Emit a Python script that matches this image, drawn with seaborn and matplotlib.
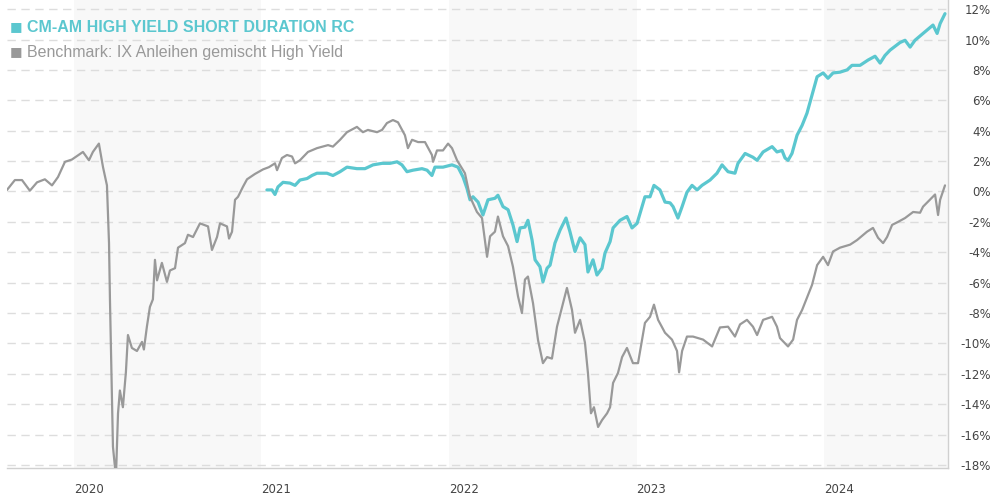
import numpy as np
import pandas as pd
import seaborn as sns
import matplotlib.pyplot as plt

# values (x in decimal years, y in percent)
bench_year = [2019.643, 2019.685, 2019.723, 2019.765, 2019.803, 2019.845, 2019.883, 2019.915,
              2019.952, 2019.989, 2020.048, 2020.080, 2020.101, 2020.133, 2020.155, 2020.176,
              2020.187, 2020.192, 2020.208, 2020.224, 2020.235, 2020.245, 2020.261, 2020.277,
              2020.288, 2020.309, 2020.336, 2020.363, 2020.373, 2020.389, 2020.405, 2020.421,
              2020.432, 2020.443, 2020.469, 2020.496, 2020.512, 2020.539, 2020.555, 2020.592,
              2020.608, 2020.635, 2020.672, 2020.715, 2020.736, 2020.763, 2020.779, 2020.816,
              2020.827, 2020.843, 2020.859, 2020.875, 2020.901, 2020.923, 2020.965, 2021.008,
              2021.040, 2021.072, 2021.083, 2021.109, 2021.136, 2021.163, 2021.179, 2021.205,
              2021.248, 2021.296, 2021.355, 2021.381, 2021.419, 2021.456, 2021.509, 2021.541,
              2021.568, 2021.616, 2021.643, 2021.669, 2021.701, 2021.728, 2021.765, 2021.781,
              2021.803, 2021.835, 2021.872, 2021.909, 2021.915, 2021.936, 2021.968, 2021.995,
              2022.016, 2022.043, 2022.085, 2022.112, 2022.149, 2022.176, 2022.203, 2022.219,
              2022.245, 2022.261, 2022.288, 2022.315, 2022.341, 2022.368, 2022.389, 2022.405,
              2022.421, 2022.448, 2022.475, 2022.501, 2022.523, 2022.549, 2022.576, 2022.603,
              2022.629, 2022.656, 2022.672, 2022.699, 2022.725, 2022.741, 2022.757, 2022.773,
              2022.795, 2022.816, 2022.843, 2022.859, 2022.875, 2022.901, 2022.923, 2022.949,
              2022.981, 2023.008, 2023.045, 2023.072, 2023.093, 2023.115, 2023.152, 2023.189,
              2023.216, 2023.227, 2023.243, 2023.269, 2023.301, 2023.355, 2023.403, 2023.445,
              2023.488, 2023.525, 2023.552, 2023.589, 2023.621, 2023.643, 2023.675, 2023.723,
              2023.749, 2023.765, 2023.808, 2023.835, 2023.856, 2023.883, 2023.909, 2023.936,
              2023.963, 2023.995, 2024.021, 2024.048, 2024.085, 2024.139, 2024.176, 2024.229,
              2024.261, 2024.288, 2024.315, 2024.336, 2024.363, 2024.395, 2024.432, 2024.475,
              2024.512, 2024.528, 2024.592, 2024.608, 2024.619, 2024.645]
bench_val = [0.1, 0.75, 0.75, 0.05, 0.6, 0.8, 0.4, 0.95,
             1.95, 2.1, 2.6, 2.05, 2.6, 3.15, 1.6, 0.4,
             -3.4, -7.1, -16.8, -18.8, -14.6, -13.1, -14.2, -11.9,
             -9.45, -10.3, -10.5, -9.9, -10.4, -8.9, -7.6, -7.1,
             -4.5, -5.85, -4.7, -5.95, -5.2, -5.05, -3.7, -3.4,
             -2.85, -3.0, -2.1, -2.3, -3.85, -3.0, -2.1, -2.3,
             -3.1, -2.65, -0.55, -0.35, 0.3, 0.8, 1.15, 1.45,
             1.6, 1.85, 1.4, 2.2, 2.4, 2.3, 1.85, 2.05,
             2.6, 2.85, 3.05, 2.95, 3.4, 3.9, 4.25, 3.9,
             4.05, 3.9, 4.05, 4.5, 4.7, 4.55, 3.7, 2.85,
             3.4, 3.25, 3.25, 2.4, 1.95, 2.7, 2.7, 3.15,
             2.85, 2.05, 1.2, -0.35, -1.35, -1.75, -4.3, -2.95,
             -2.65, -1.65, -2.95, -3.6, -4.95, -6.9, -8.0, -5.8,
             -5.6, -7.35, -9.8, -11.3, -10.9, -11.0, -8.9, -7.6,
             -6.35, -7.8, -9.3, -8.45, -9.95, -11.95, -14.6, -14.2,
             -15.5, -15.05, -14.6, -14.2, -12.6, -11.95, -10.9, -10.3,
             -11.3, -11.3, -8.65, -8.25, -7.45, -8.45, -9.3, -9.75,
             -10.5, -11.9, -10.5, -9.55, -9.55, -9.75, -10.2, -8.95,
             -8.9, -9.55, -8.75, -8.45, -8.9, -9.45, -8.45, -8.25,
             -8.9, -9.65, -10.2, -9.75, -8.45, -7.8, -7.0, -6.15,
             -4.85, -4.3, -4.85, -3.95, -3.7, -3.5, -3.2, -2.65,
             -2.4, -3.05, -3.4, -3.0, -2.2, -2.0, -1.75, -1.35,
             -1.4, -1.0, -0.2, -1.55, -0.55, 0.4]

fund_year = [2021.029, 2021.056, 2021.072, 2021.088, 2021.115, 2021.152, 2021.179, 2021.205,
             2021.243, 2021.269, 2021.296, 2021.349, 2021.381, 2021.419, 2021.456, 2021.509,
             2021.552, 2021.595, 2021.643, 2021.685, 2021.723, 2021.749, 2021.776, 2021.808,
             2021.856, 2021.883, 2021.909, 2021.925, 2021.968, 2022.016, 2022.048, 2022.075,
             2022.096, 2022.112, 2022.128, 2022.155, 2022.181, 2022.208, 2022.245, 2022.261,
             2022.288, 2022.315, 2022.341, 2022.363, 2022.379, 2022.405, 2022.421, 2022.443,
             2022.459, 2022.485, 2022.501, 2022.523, 2022.539, 2022.565, 2022.592, 2022.624,
             2022.645, 2022.672, 2022.699, 2022.725, 2022.741, 2022.768, 2022.789, 2022.816,
             2022.832, 2022.859, 2022.875, 2022.912, 2022.949, 2022.976, 2023.003, 2023.045,
             2023.072, 2023.093, 2023.125, 2023.152, 2023.179, 2023.195, 2023.221, 2023.243,
             2023.269, 2023.296, 2023.323, 2023.349, 2023.392, 2023.429, 2023.456, 2023.488,
             2023.525, 2023.541, 2023.579, 2023.621, 2023.643, 2023.675, 2023.723, 2023.749,
             2023.776, 2023.792, 2023.808, 2023.829, 2023.856, 2023.883, 2023.909, 2023.936,
             2023.963, 2023.995, 2024.021, 2024.048, 2024.085, 2024.123, 2024.149, 2024.192,
             2024.235, 2024.272, 2024.299, 2024.325, 2024.352, 2024.405, 2024.432, 2024.459,
             2024.485, 2024.528, 2024.581, 2024.603, 2024.619, 2024.645]
fund_val = [0.1, 0.1, -0.2, 0.3, 0.6, 0.55, 0.4, 0.75,
            0.85, 1.05, 1.2, 1.2, 1.05, 1.3, 1.6, 1.5,
            1.5, 1.75, 1.85, 1.85, 1.95, 1.75, 1.3, 1.4,
            1.5, 1.4, 1.05, 1.6, 1.6, 1.75, 1.6, 0.95,
            0.2, -0.55, -0.35, -0.7, -1.55, -0.55, -0.45, -0.25,
            -1.0, -1.2, -2.2, -3.3, -2.4, -2.35, -1.9, -3.2,
            -4.5, -4.95, -5.95, -5.05, -4.85, -3.4, -2.55, -1.75,
            -2.65, -3.95, -3.05, -3.5, -5.3, -4.5, -5.5, -5.05,
            -4.05, -3.3, -2.4, -1.9, -1.65, -2.4, -2.1, -0.35,
            -0.35, 0.4, 0.1, -0.7, -0.75, -1.0, -1.75, -1.0,
            -0.05, 0.4, 0.1, 0.4, 0.75, 1.2, 1.75, 1.3,
            1.2, 1.85, 2.5, 2.25, 2.05, 2.6, 2.95, 2.6,
            2.7, 2.2, 2.05, 2.5, 3.7, 4.35, 5.15, 6.35,
            7.55, 7.8, 7.45, 7.8, 7.85, 8.0, 8.3, 8.3,
            8.65, 8.9, 8.45, 8.95, 9.3, 9.8, 9.95, 9.5,
            9.95, 10.4, 10.95, 10.4, 11.05, 11.7]

years = [2020, 2021, 2022, 2023, 2024]
shaded_years = [2020, 2022, 2024]
y_ticks = list(range(-18, 13, 2))

fund_name = "CM-AM HIGH YIELD SHORT DURATION RC"
bench_name = "Benchmark: IX Anleihen gemischt High Yield"

teal = "#5bc7cf"
grey = "#999999"

sns.set_style("white")
plt.rcParams['font.family'] = ['DejaVu Sans']

fig = plt.figure(figsize=(9.9, 5), dpi=100)
ax = fig.add_axes([7 / 990, 32 / 500, 941 / 990, 468 / 500])

x_min, x_max = 2019.643, 2024.661
for yr in shaded_years:
    ax.axvspan(yr, min(yr + 1, x_max), color="#f8f8f8", zorder=0, lw=0)

for t in y_ticks:
    ax.axhline(t, color="#dddddd", lw=1, ls=(0, (6, 4)), zorder=1)

sns.lineplot(x=fund_year, y=fund_val, ax=ax, color=teal, lw=2.3, sort=False, zorder=3)
sns.lineplot(x=bench_year, y=bench_val, ax=ax, color=grey, lw=1.6, sort=False, zorder=4)

ax.set_xlim(x_min, x_max)
ax.set_ylim(-18.2, 12.6)

ax.yaxis.tick_right()
ax.set_yticks(y_ticks)
ax.set_yticklabels([f"{t}%" for t in y_ticks])
ax.tick_params(axis="y", length=0, pad=31, labelsize=8.5, labelcolor="#444444")
for lab in ax.get_yticklabels():
    lab.set_horizontalalignment("right")

ax.set_xticks(years)
ax.set_xticklabels([str(y) for y in years])
ax.tick_params(axis="x", length=0, pad=11, labelsize=8.5, labelcolor="#444444")
for lab in ax.get_xticklabels():
    lab.set_horizontalalignment("left")

ax.set_xlabel("")
ax.set_ylabel("")
for side in ["top", "left"]:
    ax.spines[side].set_visible(False)
for side in ["right", "bottom"]:
    ax.spines[side].set_color("#d0d0d0")
    ax.spines[side].set_linewidth(1)

legend_font = ["Liberation Sans", "DejaVu Sans"]
fig.text(10 / 990, 1 - 27 / 500, "\u25a0", color=teal, fontsize=9.5, va="center",
         family=["DejaVu Sans"])
fig.text(27 / 990, 1 - 27 / 500, fund_name, color=teal, fontsize=11.5, fontweight="bold",
         va="center", family=legend_font)
fig.text(10 / 990, 1 - 52 / 500, "\u25a0", color=grey, fontsize=9.5, va="center",
         family=["DejaVu Sans"])
fig.text(27 / 990, 1 - 52 / 500, bench_name, color=grey, fontsize=11.5,
         va="center", family=legend_font)

fig.savefig("out.png", dpi=100)
